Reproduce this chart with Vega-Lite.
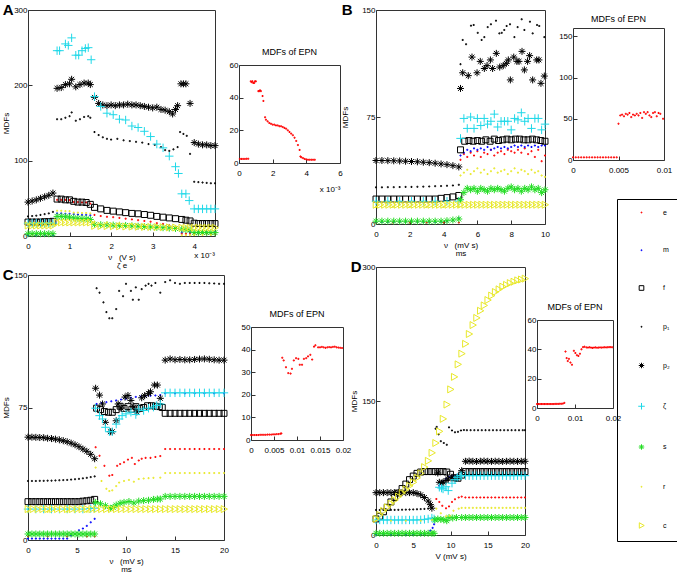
{
"$schema":"https://vega.github.io/schema/vega-lite/v6.json",
"padding":{"left":2,"top":2,"right":0,"bottom":0},
"datasets":{
"A":[
{"s":"e","x":0,"y":2},{"s":"e","x":0.1,"y":2},{"s":"e","x":0.2,"y":2},{"s":"e","x":0.3,"y":2},{"s":"e","x":0.4,"y":2},{"s":"e","x":0.5,"y":2},{"s":"e","x":0.6,"y":2},
{"s":"e","x":0.7,"y":48},{"s":"e","x":0.8,"y":48},{"s":"e","x":0.9,"y":48},{"s":"e","x":1,"y":47.5},{"s":"e","x":1.1,"y":45},{"s":"e","x":1.2,"y":45},{"s":"e","x":1.3,"y":44.5},{"s":"e","x":1.4,"y":44.5},{"s":"e","x":1.5,"y":43},
{"s":"e","x":1.6,"y":28},{"s":"e","x":1.75,"y":26.5},{"s":"e","x":1.9,"y":25.5},{"s":"e","x":2.05,"y":25},{"s":"e","x":2.2,"y":24},{"s":"e","x":2.35,"y":23},{"s":"e","x":2.5,"y":22},{"s":"e","x":2.65,"y":21},{"s":"e","x":2.8,"y":20},{"s":"e","x":2.95,"y":19},{"s":"e","x":3.1,"y":17},{"s":"e","x":3.25,"y":16},{"s":"e","x":3.4,"y":14},{"s":"e","x":3.55,"y":12},
{"s":"e","x":3.7,"y":3},{"s":"e","x":3.8,"y":3},{"s":"e","x":3.9,"y":3},{"s":"e","x":4,"y":3},{"s":"e","x":4.1,"y":3},{"s":"e","x":4.2,"y":3},{"s":"e","x":4.3,"y":3},{"s":"e","x":4.4,"y":3},{"s":"e","x":4.5,"y":3},
{"s":"m","x":0,"y":1},{"s":"m","x":0.2,"y":1},{"s":"m","x":0.4,"y":1},{"s":"m","x":0.6,"y":1},
{"s":"m","x":0.7,"y":30},{"s":"m","x":0.8,"y":30},{"s":"m","x":0.9,"y":29.5},{"s":"m","x":1,"y":29.5},{"s":"m","x":1.1,"y":29},{"s":"m","x":1.2,"y":28.5},{"s":"m","x":1.3,"y":28},{"s":"m","x":1.4,"y":28},{"s":"m","x":1.5,"y":27.5},
{"s":"m","x":1.6,"y":16},{"s":"m","x":1.9,"y":15.5},{"s":"m","x":2.2,"y":15},{"s":"m","x":2.5,"y":14.5},{"s":"m","x":2.8,"y":14},{"s":"m","x":3.1,"y":13},{"s":"m","x":3.4,"y":12},
{"s":"m","x":3.7,"y":5},{"s":"m","x":3.9,"y":5},{"s":"m","x":4.1,"y":5},{"s":"m","x":4.3,"y":5},{"s":"m","x":4.5,"y":5},
{"s":"f","x":0,"y":18.5},{"s":"f","x":0.1,"y":18.5},{"s":"f","x":0.2,"y":18.5},{"s":"f","x":0.3,"y":18.5},{"s":"f","x":0.4,"y":19},{"s":"f","x":0.5,"y":19},{"s":"f","x":0.6,"y":19.5},
{"s":"f","x":0.7,"y":49},{"s":"f","x":0.8,"y":49},{"s":"f","x":0.9,"y":48},{"s":"f","x":1,"y":48},{"s":"f","x":1.1,"y":46},{"s":"f","x":1.2,"y":45},{"s":"f","x":1.3,"y":45},{"s":"f","x":1.4,"y":44.5},{"s":"f","x":1.5,"y":42},
{"s":"f","x":1.6,"y":38},{"s":"f","x":1.75,"y":36},{"s":"f","x":1.9,"y":34},{"s":"f","x":2.05,"y":33},{"s":"f","x":2.2,"y":32},{"s":"f","x":2.35,"y":31},{"s":"f","x":2.5,"y":30},{"s":"f","x":2.65,"y":29.5},{"s":"f","x":2.8,"y":28.5},{"s":"f","x":2.95,"y":27.5},{"s":"f","x":3.1,"y":26},{"s":"f","x":3.25,"y":25},{"s":"f","x":3.4,"y":24},{"s":"f","x":3.55,"y":23},
{"s":"f","x":3.7,"y":22},{"s":"f","x":3.8,"y":21},{"s":"f","x":3.9,"y":20},{"s":"f","x":4,"y":17},{"s":"f","x":4.1,"y":16.5},{"s":"f","x":4.2,"y":16.5},{"s":"f","x":4.3,"y":16.5},{"s":"f","x":4.4,"y":16.5},{"s":"f","x":4.5,"y":16.5},
{"s":"p₁","x":0,"y":26},{"s":"p₁","x":0.1,"y":26.5},{"s":"p₁","x":0.2,"y":27},{"s":"p₁","x":0.3,"y":28},{"s":"p₁","x":0.4,"y":29},{"s":"p₁","x":0.5,"y":30},{"s":"p₁","x":0.6,"y":32},
{"s":"p₁","x":0.7,"y":155},{"s":"p₁","x":0.8,"y":155},{"s":"p₁","x":0.9,"y":157},{"s":"p₁","x":1,"y":159},{"s":"p₁","x":1.05,"y":164},{"s":"p₁","x":1.15,"y":153},{"s":"p₁","x":1.25,"y":155},{"s":"p₁","x":1.35,"y":158},{"s":"p₁","x":1.45,"y":159},{"s":"p₁","x":1.5,"y":157},
{"s":"p₁","x":1.6,"y":138},{"s":"p₁","x":1.7,"y":134},{"s":"p₁","x":1.8,"y":131},{"s":"p₁","x":1.9,"y":129},{"s":"p₁","x":2,"y":128},{"s":"p₁","x":2.15,"y":129},{"s":"p₁","x":2.3,"y":127},{"s":"p₁","x":2.45,"y":126},{"s":"p₁","x":2.6,"y":125},{"s":"p₁","x":2.75,"y":124},{"s":"p₁","x":2.9,"y":122},{"s":"p₁","x":3.05,"y":121},{"s":"p₁","x":3.2,"y":118},{"s":"p₁","x":3.3,"y":114},{"s":"p₁","x":3.4,"y":113},{"s":"p₁","x":3.5,"y":115},{"s":"p₁","x":3.6,"y":118},
{"s":"p₁","x":3.66,"y":138},{"s":"p₁","x":3.74,"y":135.5},{"s":"p₁","x":3.82,"y":133},{"s":"p₁","x":3.9,"y":109},
{"s":"p₁","x":4,"y":72},{"s":"p₁","x":4.1,"y":71.5},{"s":"p₁","x":4.2,"y":71},{"s":"p₁","x":4.3,"y":70.5},{"s":"p₁","x":4.4,"y":70},{"s":"p₁","x":4.5,"y":70},
{"s":"p₂","x":0,"y":45},{"s":"p₂","x":0.1,"y":46.5},{"s":"p₂","x":0.2,"y":48},{"s":"p₂","x":0.3,"y":50},{"s":"p₂","x":0.4,"y":52},{"s":"p₂","x":0.5,"y":54},{"s":"p₂","x":0.6,"y":57},
{"s":"p₂","x":0.7,"y":196},{"s":"p₂","x":0.8,"y":197},{"s":"p₂","x":0.9,"y":201},{"s":"p₂","x":1,"y":202},{"s":"p₂","x":1.05,"y":208},{"s":"p₂","x":1.15,"y":198},{"s":"p₂","x":1.25,"y":201},{"s":"p₂","x":1.35,"y":203},{"s":"p₂","x":1.45,"y":203},{"s":"p₂","x":1.5,"y":201},
{"s":"p₂","x":1.6,"y":184},{"s":"p₂","x":1.7,"y":176},{"s":"p₂","x":1.8,"y":174},{"s":"p₂","x":1.9,"y":173},{"s":"p₂","x":2,"y":174},{"s":"p₂","x":2.1,"y":173},{"s":"p₂","x":2.2,"y":174},{"s":"p₂","x":2.3,"y":174},{"s":"p₂","x":2.4,"y":175},{"s":"p₂","x":2.5,"y":174},{"s":"p₂","x":2.6,"y":174},{"s":"p₂","x":2.7,"y":173},{"s":"p₂","x":2.8,"y":172},{"s":"p₂","x":2.9,"y":171},{"s":"p₂","x":3,"y":170},{"s":"p₂","x":3.1,"y":171},{"s":"p₂","x":3.2,"y":168},{"s":"p₂","x":3.3,"y":167},{"s":"p₂","x":3.4,"y":165},{"s":"p₂","x":3.48,"y":162},{"s":"p₂","x":3.55,"y":168},{"s":"p₂","x":3.6,"y":173},
{"s":"p₂","x":3.68,"y":202},{"s":"p₂","x":3.74,"y":202},{"s":"p₂","x":3.8,"y":202},{"s":"p₂","x":3.9,"y":176},
{"s":"p₂","x":4,"y":124},{"s":"p₂","x":4.1,"y":122},{"s":"p₂","x":4.2,"y":121},{"s":"p₂","x":4.3,"y":121},{"s":"p₂","x":4.4,"y":120},{"s":"p₂","x":4.5,"y":120},
{"s":"ζ","x":0,"y":17},{"s":"ζ","x":0.1,"y":17},{"s":"ζ","x":0.2,"y":17},{"s":"ζ","x":0.3,"y":17},{"s":"ζ","x":0.4,"y":17},{"s":"ζ","x":0.5,"y":17},{"s":"ζ","x":0.6,"y":17},
{"s":"ζ","x":0.7,"y":246},{"s":"ζ","x":0.76,"y":246},{"s":"ζ","x":0.9,"y":255},{"s":"ζ","x":0.97,"y":253},{"s":"ζ","x":1.05,"y":263},{"s":"ζ","x":1.15,"y":240},{"s":"ζ","x":1.22,"y":240},{"s":"ζ","x":1.3,"y":246},{"s":"ζ","x":1.38,"y":249},{"s":"ζ","x":1.45,"y":250},{"s":"ζ","x":1.52,"y":234},
{"s":"ζ","x":1.6,"y":185},{"s":"ζ","x":1.75,"y":172},{"s":"ζ","x":1.9,"y":163},{"s":"ζ","x":2.05,"y":161},{"s":"ζ","x":2.2,"y":155},{"s":"ζ","x":2.35,"y":154},{"s":"ζ","x":2.5,"y":146},{"s":"ζ","x":2.65,"y":144},{"s":"ζ","x":2.8,"y":139},{"s":"ζ","x":2.95,"y":132},{"s":"ζ","x":3.1,"y":122},{"s":"ζ","x":3.25,"y":117},{"s":"ζ","x":3.4,"y":106},{"s":"ζ","x":3.55,"y":92},{"s":"ζ","x":3.62,"y":83},
{"s":"ζ","x":3.7,"y":56},{"s":"ζ","x":3.8,"y":56},{"s":"ζ","x":3.88,"y":47},
{"s":"ζ","x":4,"y":36},{"s":"ζ","x":4.1,"y":36},{"s":"ζ","x":4.2,"y":36},{"s":"ζ","x":4.3,"y":36},{"s":"ζ","x":4.4,"y":36},{"s":"ζ","x":4.5,"y":36},
{"s":"s","x":0,"y":3},{"s":"s","x":0.1,"y":3},{"s":"s","x":0.2,"y":3},{"s":"s","x":0.3,"y":3},{"s":"s","x":0.4,"y":3},{"s":"s","x":0.5,"y":3},{"s":"s","x":0.6,"y":3},
{"s":"s","x":0.7,"y":26},{"s":"s","x":0.8,"y":26},{"s":"s","x":0.9,"y":25.5},{"s":"s","x":1,"y":25},{"s":"s","x":1.1,"y":24},{"s":"s","x":1.2,"y":23.5},{"s":"s","x":1.3,"y":23},{"s":"s","x":1.4,"y":23},{"s":"s","x":1.5,"y":22},
{"s":"s","x":1.6,"y":15.5},{"s":"s","x":1.75,"y":15},{"s":"s","x":1.9,"y":14.8},{"s":"s","x":2.05,"y":14.5},{"s":"s","x":2.2,"y":14.2},{"s":"s","x":2.35,"y":14},{"s":"s","x":2.5,"y":13.5},{"s":"s","x":2.65,"y":13},{"s":"s","x":2.8,"y":12.5},{"s":"s","x":2.95,"y":12},{"s":"s","x":3.1,"y":11.5},{"s":"s","x":3.25,"y":11},{"s":"s","x":3.4,"y":10.5},{"s":"s","x":3.55,"y":10},
{"s":"s","x":3.7,"y":9},{"s":"s","x":3.8,"y":8.5},{"s":"s","x":3.9,"y":8},{"s":"s","x":4,"y":4.5},{"s":"s","x":4.1,"y":4.5},{"s":"s","x":4.2,"y":4.5},{"s":"s","x":4.3,"y":4.5},{"s":"s","x":4.4,"y":4.5},{"s":"s","x":4.5,"y":4.5},
{"s":"r","x":0,"y":15},{"s":"r","x":0.2,"y":15},{"s":"r","x":0.4,"y":15},{"s":"r","x":0.6,"y":15},
{"s":"r","x":0.7,"y":33.5},{"s":"r","x":0.8,"y":33.5},{"s":"r","x":0.9,"y":33},{"s":"r","x":1,"y":33},{"s":"r","x":1.1,"y":31},{"s":"r","x":1.2,"y":31},{"s":"r","x":1.3,"y":30.5},{"s":"r","x":1.4,"y":30.5},{"s":"r","x":1.5,"y":30},
{"s":"r","x":1.6,"y":19},{"s":"r","x":1.9,"y":18},{"s":"r","x":2.2,"y":17},{"s":"r","x":2.5,"y":16},{"s":"r","x":2.8,"y":15},{"s":"r","x":3.1,"y":14},{"s":"r","x":3.4,"y":13},{"s":"r","x":3.55,"y":12.5},
{"s":"r","x":3.7,"y":1},{"s":"r","x":3.8,"y":1},{"s":"r","x":3.9,"y":1},{"s":"r","x":4,"y":1.5},{"s":"r","x":4.2,"y":1.5},{"s":"r","x":4.4,"y":1.5},
{"s":"c","x":0,"y":14},{"s":"c","x":0.1,"y":14},{"s":"c","x":0.2,"y":14},{"s":"c","x":0.3,"y":14},{"s":"c","x":0.4,"y":14},{"s":"c","x":0.5,"y":14},{"s":"c","x":0.6,"y":14},
{"s":"c","x":0.7,"y":18},{"s":"c","x":0.8,"y":18},{"s":"c","x":0.9,"y":18},{"s":"c","x":1,"y":18},{"s":"c","x":1.1,"y":18},{"s":"c","x":1.2,"y":18},{"s":"c","x":1.3,"y":18},{"s":"c","x":1.4,"y":18},{"s":"c","x":1.5,"y":18},
{"s":"c","x":1.6,"y":13.5},{"s":"c","x":1.75,"y":13.3},{"s":"c","x":1.9,"y":13.2},{"s":"c","x":2.05,"y":13},{"s":"c","x":2.2,"y":12.8},{"s":"c","x":2.35,"y":12.6},{"s":"c","x":2.5,"y":12.5},{"s":"c","x":2.65,"y":12.3},{"s":"c","x":2.8,"y":12.1},{"s":"c","x":2.95,"y":12},{"s":"c","x":3.1,"y":11.8},{"s":"c","x":3.25,"y":11.6},{"s":"c","x":3.4,"y":11.4},{"s":"c","x":3.55,"y":11.2},
{"s":"c","x":3.7,"y":11},{"s":"c","x":3.8,"y":11},{"s":"c","x":3.9,"y":11},{"s":"c","x":4,"y":11},{"s":"c","x":4.1,"y":11},{"s":"c","x":4.2,"y":11},{"s":"c","x":4.3,"y":11},{"s":"c","x":4.4,"y":11},{"s":"c","x":4.5,"y":11}
],
"Ai":[
{"s":"e","x":0.05,"y":2.5},{"s":"e","x":0.15,"y":2.5},{"s":"e","x":0.25,"y":2.5},{"s":"e","x":0.35,"y":2.5},{"s":"e","x":0.45,"y":2.6},{"s":"e","x":0.55,"y":2.6},
{"s":"e","x":0.7,"y":50},{"s":"e","x":0.75,"y":49.5},{"s":"e","x":0.8,"y":50},{"s":"e","x":0.85,"y":49},{"s":"e","x":0.9,"y":49},{"s":"e","x":0.95,"y":50},{"s":"e","x":1,"y":50},
{"s":"e","x":1.15,"y":44},{"s":"e","x":1.2,"y":44},{"s":"e","x":1.25,"y":44.5},{"s":"e","x":1.3,"y":44},{"s":"e","x":1.4,"y":41},{"s":"e","x":1.45,"y":38},
{"s":"e","x":1.55,"y":28},{"s":"e","x":1.6,"y":26.5},{"s":"e","x":1.7,"y":25.5},{"s":"e","x":1.8,"y":24.5},{"s":"e","x":1.9,"y":24},{"s":"e","x":2,"y":23.5},{"s":"e","x":2.1,"y":23.5},{"s":"e","x":2.2,"y":23},{"s":"e","x":2.3,"y":23},{"s":"e","x":2.4,"y":22.5},{"s":"e","x":2.5,"y":22.5},{"s":"e","x":2.6,"y":22},{"s":"e","x":2.7,"y":21.5},{"s":"e","x":2.8,"y":21},{"s":"e","x":2.9,"y":20},{"s":"e","x":3,"y":19},{"s":"e","x":3.1,"y":18},{"s":"e","x":3.2,"y":17},{"s":"e","x":3.3,"y":15.5},{"s":"e","x":3.4,"y":13.5},{"s":"e","x":3.5,"y":11},{"s":"e","x":3.6,"y":8},{"s":"e","x":3.65,"y":4},{"s":"e","x":3.7,"y":3.5},{"s":"e","x":3.8,"y":3},{"s":"e","x":3.9,"y":2.5},{"s":"e","x":4,"y":2.2},{"s":"e","x":4.1,"y":2},{"s":"e","x":4.2,"y":2},{"s":"e","x":4.3,"y":2},{"s":"e","x":4.4,"y":2},{"s":"e","x":4.5,"y":2}
],
"B":[
{"s":"e","x":0,"y":1},{"s":"e","x":1,"y":1},{"s":"e","x":2,"y":1},{"s":"e","x":3,"y":1},{"s":"e","x":4,"y":1},{"s":"e","x":4.9,"y":1},
{"s":"e","x":5,"y":45},{"s":"e","x":5.2,"y":49},{"s":"e","x":5.4,"y":47},{"s":"e","x":5.6,"y":50},{"s":"e","x":5.8,"y":48},{"s":"e","x":6,"y":51},{"s":"e","x":6.2,"y":47},{"s":"e","x":6.4,"y":50},{"s":"e","x":6.6,"y":49},{"s":"e","x":6.8,"y":52},{"s":"e","x":7,"y":48},{"s":"e","x":7.2,"y":50},{"s":"e","x":7.4,"y":51},{"s":"e","x":7.6,"y":49},{"s":"e","x":7.8,"y":52},{"s":"e","x":8,"y":51},{"s":"e","x":8.2,"y":50},{"s":"e","x":8.4,"y":52},{"s":"e","x":8.6,"y":50},{"s":"e","x":8.8,"y":53},{"s":"e","x":9,"y":49},{"s":"e","x":9.2,"y":51},{"s":"e","x":9.4,"y":47},{"s":"e","x":9.6,"y":52},{"s":"e","x":9.8,"y":44},{"s":"e","x":10,"y":48},
{"s":"m","x":0,"y":1.5},{"s":"m","x":0.35,"y":1.5},{"s":"m","x":0.7,"y":1.5},{"s":"m","x":1.05,"y":1.5},{"s":"m","x":1.4,"y":1.5},{"s":"m","x":1.75,"y":1.5},{"s":"m","x":2.1,"y":1.5},{"s":"m","x":2.45,"y":1.5},{"s":"m","x":2.8,"y":1.5},{"s":"m","x":3.15,"y":1.5},{"s":"m","x":3.5,"y":1.5},{"s":"m","x":3.85,"y":1.6},{"s":"m","x":4.2,"y":1.8},{"s":"m","x":4.55,"y":2.5},{"s":"m","x":4.9,"y":4},
{"s":"m","x":5,"y":48},{"s":"m","x":5.2,"y":50},{"s":"m","x":5.4,"y":52},{"s":"m","x":5.6,"y":51},{"s":"m","x":5.8,"y":53},{"s":"m","x":6,"y":52},{"s":"m","x":6.2,"y":53},{"s":"m","x":6.4,"y":52},{"s":"m","x":6.6,"y":54},{"s":"m","x":6.8,"y":52},{"s":"m","x":7,"y":53},{"s":"m","x":7.2,"y":54},{"s":"m","x":7.4,"y":53},{"s":"m","x":7.6,"y":54},{"s":"m","x":7.8,"y":53},{"s":"m","x":8,"y":54},{"s":"m","x":8.2,"y":55},{"s":"m","x":8.4,"y":54},{"s":"m","x":8.6,"y":55},{"s":"m","x":8.8,"y":54},{"s":"m","x":9,"y":55},{"s":"m","x":9.2,"y":54},{"s":"m","x":9.4,"y":55},{"s":"m","x":9.6,"y":54},{"s":"m","x":9.8,"y":55},{"s":"m","x":10,"y":55},
{"s":"f","x":0,"y":17.5},{"s":"f","x":0.35,"y":17.5},{"s":"f","x":0.7,"y":17.5},{"s":"f","x":1.05,"y":17.5},{"s":"f","x":1.4,"y":17.5},{"s":"f","x":1.75,"y":17.5},{"s":"f","x":2.1,"y":17.5},{"s":"f","x":2.45,"y":17.5},{"s":"f","x":2.8,"y":17.5},{"s":"f","x":3.15,"y":17.5},{"s":"f","x":3.5,"y":17.5},{"s":"f","x":3.85,"y":18},{"s":"f","x":4.2,"y":18.5},{"s":"f","x":4.55,"y":19},{"s":"f","x":4.9,"y":20},
{"s":"f","x":5,"y":52},{"s":"f","x":5.25,"y":58},{"s":"f","x":5.5,"y":58.5},{"s":"f","x":5.75,"y":58},{"s":"f","x":6,"y":58.5},{"s":"f","x":6.25,"y":58},{"s":"f","x":6.5,"y":59},{"s":"f","x":6.75,"y":58},{"s":"f","x":7,"y":59.5},{"s":"f","x":7.25,"y":58.5},{"s":"f","x":7.5,"y":59},{"s":"f","x":7.75,"y":59.5},{"s":"f","x":8,"y":59},{"s":"f","x":8.25,"y":59.5},{"s":"f","x":8.5,"y":59.5},{"s":"f","x":8.75,"y":59},{"s":"f","x":9,"y":59},{"s":"f","x":9.25,"y":59.5},{"s":"f","x":9.5,"y":59},{"s":"f","x":9.75,"y":58.5},{"s":"f","x":10,"y":58},
{"s":"p₁","x":0,"y":25.7},{"s":"p₁","x":0.35,"y":25.7},{"s":"p₁","x":0.7,"y":25.8},{"s":"p₁","x":1.05,"y":25.8},{"s":"p₁","x":1.4,"y":25.9},{"s":"p₁","x":1.75,"y":26},{"s":"p₁","x":2.1,"y":26},{"s":"p₁","x":2.45,"y":26.1},{"s":"p₁","x":2.8,"y":26.2},{"s":"p₁","x":3.15,"y":26.3},{"s":"p₁","x":3.5,"y":26.5},{"s":"p₁","x":3.85,"y":26.6},{"s":"p₁","x":4.2,"y":26.8},{"s":"p₁","x":4.55,"y":27},{"s":"p₁","x":4.9,"y":27.5},
{"s":"p₁","x":5,"y":112},{"s":"p₁","x":5.13,"y":129},{"s":"p₁","x":5.33,"y":126},{"s":"p₁","x":5.62,"y":139},{"s":"p₁","x":5.78,"y":139.5},{"s":"p₁","x":6.02,"y":134},{"s":"p₁","x":6.25,"y":129},{"s":"p₁","x":6.41,"y":131},{"s":"p₁","x":6.61,"y":138},{"s":"p₁","x":6.8,"y":140},{"s":"p₁","x":7.1,"y":142.5},{"s":"p₁","x":7.3,"y":133.6},{"s":"p₁","x":7.44,"y":134},{"s":"p₁","x":7.59,"y":136},{"s":"p₁","x":7.73,"y":138.8},{"s":"p₁","x":7.93,"y":140},{"s":"p₁","x":8.19,"y":131},{"s":"p₁","x":8.38,"y":138},{"s":"p₁","x":8.62,"y":143.5},{"s":"p₁","x":8.78,"y":136},{"s":"p₁","x":9.11,"y":141.8},{"s":"p₁","x":9.27,"y":133.6},{"s":"p₁","x":9.53,"y":139.5},{"s":"p₁","x":9.66,"y":138.8},{"s":"p₁","x":9.96,"y":131},
{"s":"p₂","x":0,"y":44.5},{"s":"p₂","x":0.35,"y":44.5},{"s":"p₂","x":0.7,"y":44.4},{"s":"p₂","x":1.05,"y":44.3},{"s":"p₂","x":1.4,"y":44.2},{"s":"p₂","x":1.75,"y":44},{"s":"p₂","x":2.1,"y":43.8},{"s":"p₂","x":2.45,"y":43.6},{"s":"p₂","x":2.8,"y":43.3},{"s":"p₂","x":3.15,"y":43},{"s":"p₂","x":3.5,"y":42.6},{"s":"p₂","x":3.85,"y":42.1},{"s":"p₂","x":4.2,"y":41.6},{"s":"p₂","x":4.55,"y":40.9},{"s":"p₂","x":4.9,"y":40},
{"s":"p₂","x":5,"y":95},{"s":"p₂","x":5.13,"y":106},{"s":"p₂","x":5.46,"y":104},{"s":"p₂","x":5.68,"y":117},{"s":"p₂","x":5.98,"y":106},{"s":"p₂","x":6.17,"y":114},{"s":"p₂","x":6.41,"y":109},{"s":"p₂","x":6.57,"y":111},{"s":"p₂","x":6.77,"y":115},{"s":"p₂","x":6.9,"y":109},{"s":"p₂","x":7.12,"y":119.6},{"s":"p₂","x":7.32,"y":110},{"s":"p₂","x":7.53,"y":111},{"s":"p₂","x":7.71,"y":112.6},{"s":"p₂","x":7.83,"y":115},{"s":"p₂","x":7.95,"y":101},{"s":"p₂","x":8.15,"y":117},{"s":"p₂","x":8.34,"y":114},{"s":"p₂","x":8.46,"y":114},{"s":"p₂","x":8.64,"y":121},{"s":"p₂","x":8.78,"y":108},{"s":"p₂","x":8.97,"y":114},{"s":"p₂","x":9.09,"y":118},{"s":"p₂","x":9.27,"y":101},{"s":"p₂","x":9.51,"y":115},{"s":"p₂","x":9.64,"y":115},{"s":"p₂","x":9.76,"y":98.6},{"s":"p₂","x":9.96,"y":103.7},
{"s":"ζ","x":0,"y":16},{"s":"ζ","x":0.7,"y":16},{"s":"ζ","x":1.4,"y":16},{"s":"ζ","x":2.1,"y":16},{"s":"ζ","x":2.8,"y":16},{"s":"ζ","x":3.5,"y":16},{"s":"ζ","x":4.2,"y":16},{"s":"ζ","x":4.9,"y":16},
{"s":"ζ","x":5,"y":60},{"s":"ζ","x":5.2,"y":74},{"s":"ζ","x":5.4,"y":67},{"s":"ζ","x":5.6,"y":75},{"s":"ζ","x":5.8,"y":67},{"s":"ζ","x":6,"y":74},{"s":"ζ","x":6.2,"y":69},{"s":"ζ","x":6.4,"y":74},{"s":"ζ","x":6.6,"y":70},{"s":"ζ","x":6.8,"y":72},{"s":"ζ","x":7,"y":77},{"s":"ζ","x":7.2,"y":68},{"s":"ζ","x":7.4,"y":72},{"s":"ζ","x":7.6,"y":72},{"s":"ζ","x":7.8,"y":72},{"s":"ζ","x":8,"y":66},{"s":"ζ","x":8.2,"y":74},{"s":"ζ","x":8.4,"y":73},{"s":"ζ","x":8.6,"y":78},{"s":"ζ","x":8.8,"y":72},{"s":"ζ","x":9,"y":74},{"s":"ζ","x":9.2,"y":67},{"s":"ζ","x":9.4,"y":74},{"s":"ζ","x":9.6,"y":74},{"s":"ζ","x":9.8,"y":66},{"s":"ζ","x":10,"y":70},
{"s":"s","x":0,"y":2},{"s":"s","x":0.35,"y":2},{"s":"s","x":0.7,"y":2},{"s":"s","x":1.05,"y":2},{"s":"s","x":1.4,"y":2},{"s":"s","x":1.75,"y":2},{"s":"s","x":2.1,"y":2},{"s":"s","x":2.45,"y":2},{"s":"s","x":2.8,"y":2},{"s":"s","x":3.15,"y":2},{"s":"s","x":3.5,"y":2},{"s":"s","x":3.85,"y":2},{"s":"s","x":4.2,"y":2.3},{"s":"s","x":4.55,"y":2.8},{"s":"s","x":4.9,"y":3.5},
{"s":"s","x":5,"y":17},{"s":"s","x":5.2,"y":22},{"s":"s","x":5.4,"y":25},{"s":"s","x":5.6,"y":24},{"s":"s","x":5.8,"y":25},{"s":"s","x":6,"y":23},{"s":"s","x":6.2,"y":25},{"s":"s","x":6.4,"y":24},{"s":"s","x":6.6,"y":23},{"s":"s","x":6.8,"y":25},{"s":"s","x":7,"y":24},{"s":"s","x":7.2,"y":25},{"s":"s","x":7.4,"y":24},{"s":"s","x":7.6,"y":23},{"s":"s","x":7.8,"y":25},{"s":"s","x":8,"y":26},{"s":"s","x":8.2,"y":24},{"s":"s","x":8.4,"y":25},{"s":"s","x":8.6,"y":23},{"s":"s","x":8.8,"y":25},{"s":"s","x":9,"y":24},{"s":"s","x":9.2,"y":26},{"s":"s","x":9.4,"y":24},{"s":"s","x":9.6,"y":25},{"s":"s","x":9.8,"y":22},{"s":"s","x":10,"y":24},
{"s":"r","x":0,"y":12},{"s":"r","x":1,"y":12},{"s":"r","x":2,"y":12},{"s":"r","x":3,"y":12},{"s":"r","x":4,"y":12},{"s":"r","x":4.9,"y":12},
{"s":"r","x":5,"y":34},{"s":"r","x":5.2,"y":36},{"s":"r","x":5.4,"y":38},{"s":"r","x":5.6,"y":35},{"s":"r","x":5.8,"y":37},{"s":"r","x":6,"y":39},{"s":"r","x":6.2,"y":36},{"s":"r","x":6.4,"y":38},{"s":"r","x":6.6,"y":35},{"s":"r","x":6.8,"y":37},{"s":"r","x":7,"y":39},{"s":"r","x":7.2,"y":36},{"s":"r","x":7.4,"y":37},{"s":"r","x":7.6,"y":38},{"s":"r","x":7.8,"y":35},{"s":"r","x":8,"y":37},{"s":"r","x":8.2,"y":39},{"s":"r","x":8.4,"y":36},{"s":"r","x":8.6,"y":38},{"s":"r","x":8.8,"y":37},{"s":"r","x":9,"y":35},{"s":"r","x":9.2,"y":38},{"s":"r","x":9.4,"y":36},{"s":"r","x":9.6,"y":37},{"s":"r","x":9.8,"y":34},{"s":"r","x":10,"y":33},
{"s":"c","x":0,"y":13.5},{"s":"c","x":0.25,"y":13.5},{"s":"c","x":0.5,"y":13.5},{"s":"c","x":0.75,"y":13.5},{"s":"c","x":1,"y":13.5},{"s":"c","x":1.25,"y":13.5},{"s":"c","x":1.5,"y":13.5},{"s":"c","x":1.75,"y":13.5},{"s":"c","x":2,"y":13.5},{"s":"c","x":2.25,"y":13.5},{"s":"c","x":2.5,"y":13.5},{"s":"c","x":2.75,"y":13.5},{"s":"c","x":3,"y":13.5},{"s":"c","x":3.25,"y":13.5},{"s":"c","x":3.5,"y":13.5},{"s":"c","x":3.75,"y":13.5},{"s":"c","x":4,"y":13.5},{"s":"c","x":4.25,"y":13.5},{"s":"c","x":4.5,"y":13.5},{"s":"c","x":4.75,"y":13.5},{"s":"c","x":5,"y":13.5},{"s":"c","x":5.25,"y":13.5},{"s":"c","x":5.5,"y":13.5},{"s":"c","x":5.75,"y":13.5},{"s":"c","x":6,"y":13.5},{"s":"c","x":6.25,"y":13.5},{"s":"c","x":6.5,"y":13.5},{"s":"c","x":6.75,"y":13.5},{"s":"c","x":7,"y":13.5},{"s":"c","x":7.25,"y":13.5},{"s":"c","x":7.5,"y":13.5},{"s":"c","x":7.75,"y":13.5},{"s":"c","x":8,"y":13.5},{"s":"c","x":8.25,"y":13.5},{"s":"c","x":8.5,"y":13.5},{"s":"c","x":8.75,"y":13.5},{"s":"c","x":9,"y":13.5},{"s":"c","x":9.25,"y":13.5},{"s":"c","x":9.5,"y":13.5},{"s":"c","x":9.75,"y":13.5},{"s":"c","x":10,"y":13.5}
],
"Bi":[
{"s":"e","x":0,"y":3.2},{"s":"e","x":0.0003,"y":3.2},{"s":"e","x":0.0006,"y":3.2},{"s":"e","x":0.0009,"y":3.2},{"s":"e","x":0.0012,"y":3.2},{"s":"e","x":0.0015,"y":3.2},{"s":"e","x":0.0018,"y":3.2},{"s":"e","x":0.0021,"y":3.2},{"s":"e","x":0.0024,"y":3.2},{"s":"e","x":0.0027,"y":3.2},{"s":"e","x":0.003,"y":3.2},{"s":"e","x":0.0033,"y":3.2},{"s":"e","x":0.0036,"y":3.2},{"s":"e","x":0.0039,"y":3.2},{"s":"e","x":0.0042,"y":3.2},{"s":"e","x":0.0045,"y":3.2},{"s":"e","x":0.0048,"y":3.2},
{"s":"e","x":0.005,"y":44},{"s":"e","x":0.0052,"y":54},{"s":"e","x":0.0054,"y":55},{"s":"e","x":0.0056,"y":53},{"s":"e","x":0.0058,"y":56},{"s":"e","x":0.006,"y":55},{"s":"e","x":0.0062,"y":57},{"s":"e","x":0.0064,"y":52},{"s":"e","x":0.0066,"y":55},{"s":"e","x":0.0068,"y":54},{"s":"e","x":0.007,"y":56},{"s":"e","x":0.0072,"y":54},{"s":"e","x":0.0074,"y":57},{"s":"e","x":0.0076,"y":51},{"s":"e","x":0.0078,"y":58},{"s":"e","x":0.008,"y":56},{"s":"e","x":0.0082,"y":58},{"s":"e","x":0.0084,"y":54},{"s":"e","x":0.0086,"y":52},{"s":"e","x":0.0088,"y":57},{"s":"e","x":0.009,"y":58},{"s":"e","x":0.0092,"y":53},{"s":"e","x":0.0094,"y":57},{"s":"e","x":0.0096,"y":56},{"s":"e","x":0.0099,"y":50}
],
"C":[
{"s":"e","x":0,"y":2},{"s":"e","x":2,"y":2},{"s":"e","x":4,"y":2},{"s":"e","x":6,"y":2},{"s":"e","x":6.8,"y":2},
{"s":"e","x":6.9,"y":52.5},{"s":"e","x":7.3,"y":47.7},{"s":"e","x":7.8,"y":42},{"s":"e","x":8.3,"y":36.4},{"s":"e","x":8.6,"y":36.8},{"s":"e","x":9.1,"y":42},{"s":"e","x":9.4,"y":43},{"s":"e","x":9.8,"y":44},{"s":"e","x":10.2,"y":45.5},{"s":"e","x":10.6,"y":46.5},{"s":"e","x":10.9,"y":43},{"s":"e","x":11.3,"y":45},{"s":"e","x":11.6,"y":46},{"s":"e","x":12,"y":46.5},{"s":"e","x":12.5,"y":46.5},{"s":"e","x":13,"y":47},{"s":"e","x":13.5,"y":47.5},
{"s":"e","x":14,"y":51.5},{"s":"e","x":14.5,"y":51.5},{"s":"e","x":15,"y":51.5},{"s":"e","x":15.5,"y":51.5},{"s":"e","x":16,"y":51.5},{"s":"e","x":16.5,"y":51.5},{"s":"e","x":17,"y":51.5},{"s":"e","x":17.5,"y":51.5},{"s":"e","x":18,"y":51.5},{"s":"e","x":18.5,"y":51.5},{"s":"e","x":19,"y":51.5},{"s":"e","x":19.5,"y":51.5},{"s":"e","x":20,"y":51.5},
{"s":"m","x":0,"y":0.8},{"s":"m","x":0.4,"y":0.8},{"s":"m","x":0.8,"y":0.8},{"s":"m","x":1.2,"y":0.8},{"s":"m","x":1.6,"y":0.8},{"s":"m","x":2,"y":0.8},{"s":"m","x":2.4,"y":0.8},{"s":"m","x":2.8,"y":0.8},{"s":"m","x":3.2,"y":0.8},{"s":"m","x":3.6,"y":0.8},{"s":"m","x":4,"y":0.8},{"s":"m","x":4.4,"y":2.5},{"s":"m","x":4.8,"y":3.5},{"s":"m","x":5.2,"y":5.5},{"s":"m","x":5.6,"y":6.5},{"s":"m","x":6,"y":8},{"s":"m","x":6.4,"y":10},{"s":"m","x":6.8,"y":12},
{"s":"m","x":7,"y":77},{"s":"m","x":7.5,"y":77.5},{"s":"m","x":8,"y":78},{"s":"m","x":8.5,"y":78.5},{"s":"m","x":9,"y":79},{"s":"m","x":9.5,"y":79.5},{"s":"m","x":10,"y":80},{"s":"m","x":10.5,"y":80.5},{"s":"m","x":11,"y":81},{"s":"m","x":11.5,"y":81.2},{"s":"m","x":12,"y":81.5},{"s":"m","x":12.5,"y":81.7},{"s":"m","x":13,"y":81.8},{"s":"m","x":13.5,"y":82},
{"s":"m","x":14,"y":83},{"s":"m","x":15,"y":83},{"s":"m","x":16,"y":83},{"s":"m","x":17,"y":83},{"s":"m","x":18,"y":83},{"s":"m","x":19,"y":83},{"s":"m","x":20,"y":83},
{"s":"f","x":0,"y":21.7},{"s":"f","x":0.4,"y":21.7},{"s":"f","x":0.8,"y":21.7},{"s":"f","x":1.2,"y":21.7},{"s":"f","x":1.6,"y":21.7},{"s":"f","x":2,"y":21.7},{"s":"f","x":2.4,"y":21.7},{"s":"f","x":2.8,"y":21.7},{"s":"f","x":3.2,"y":21.7},{"s":"f","x":3.6,"y":21.7},{"s":"f","x":4,"y":21.7},{"s":"f","x":4.4,"y":21.7},{"s":"f","x":4.8,"y":21.7},{"s":"f","x":5.2,"y":21.7},{"s":"f","x":5.6,"y":22},{"s":"f","x":6,"y":22.2},{"s":"f","x":6.4,"y":22.5},{"s":"f","x":6.8,"y":23},
{"s":"f","x":7,"y":74.6},{"s":"f","x":7.4,"y":73.8},{"s":"f","x":7.8,"y":72.7},{"s":"f","x":8.2,"y":72.3},{"s":"f","x":8.6,"y":72.3},{"s":"f","x":9,"y":73.8},{"s":"f","x":9.4,"y":75.7},{"s":"f","x":9.8,"y":74.5},{"s":"f","x":10.2,"y":75.5},{"s":"f","x":10.6,"y":74},{"s":"f","x":11,"y":75.5},{"s":"f","x":11.4,"y":74.5},{"s":"f","x":11.8,"y":75},{"s":"f","x":12.2,"y":76},{"s":"f","x":12.6,"y":76},{"s":"f","x":13,"y":75.7},{"s":"f","x":13.4,"y":75.5},{"s":"f","x":13.7,"y":75},
{"s":"f","x":14,"y":71.7},{"s":"f","x":14.5,"y":71.7},{"s":"f","x":15,"y":71.7},{"s":"f","x":15.5,"y":71.7},{"s":"f","x":16,"y":71.7},{"s":"f","x":16.5,"y":71.7},{"s":"f","x":17,"y":71.7},{"s":"f","x":17.5,"y":71.7},{"s":"f","x":18,"y":71.7},{"s":"f","x":18.5,"y":71.7},{"s":"f","x":19,"y":71.7},{"s":"f","x":19.5,"y":71.7},{"s":"f","x":20,"y":71.7},
{"s":"p₁","x":0,"y":33.4},{"s":"p₁","x":0.4,"y":33.4},{"s":"p₁","x":0.8,"y":33.4},{"s":"p₁","x":1.2,"y":33.5},{"s":"p₁","x":1.6,"y":33.5},{"s":"p₁","x":2,"y":33.6},{"s":"p₁","x":2.4,"y":33.6},{"s":"p₁","x":2.8,"y":33.7},{"s":"p₁","x":3.2,"y":33.8},{"s":"p₁","x":3.6,"y":33.9},{"s":"p₁","x":4,"y":34},{"s":"p₁","x":4.4,"y":34.2},{"s":"p₁","x":4.8,"y":34.4},{"s":"p₁","x":5.2,"y":34.6},{"s":"p₁","x":5.6,"y":34.9},{"s":"p₁","x":6,"y":35.2},{"s":"p₁","x":6.4,"y":35.6},{"s":"p₁","x":6.8,"y":36},
{"s":"p₁","x":7,"y":142.5},{"s":"p₁","x":7.3,"y":140},{"s":"p₁","x":7.7,"y":134.5},{"s":"p₁","x":8,"y":129},{"s":"p₁","x":8.3,"y":125.5},{"s":"p₁","x":8.6,"y":125.5},{"s":"p₁","x":9,"y":130.7},{"s":"p₁","x":9.3,"y":141},{"s":"p₁","x":9.7,"y":138},{"s":"p₁","x":10,"y":145},{"s":"p₁","x":10.5,"y":141},{"s":"p₁","x":10.7,"y":136},{"s":"p₁","x":11,"y":143},{"s":"p₁","x":11.3,"y":136},{"s":"p₁","x":11.6,"y":142},{"s":"p₁","x":12,"y":144},{"s":"p₁","x":12.3,"y":145},{"s":"p₁","x":12.6,"y":144},{"s":"p₁","x":13,"y":145.5},{"s":"p₁","x":13.5,"y":140},
{"s":"p₁","x":14,"y":146},{"s":"p₁","x":14.5,"y":147},{"s":"p₁","x":15,"y":145.5},{"s":"p₁","x":15.5,"y":145},{"s":"p₁","x":16,"y":145.5},{"s":"p₁","x":16.5,"y":145.5},{"s":"p₁","x":17,"y":145.5},{"s":"p₁","x":17.5,"y":145.5},{"s":"p₁","x":18,"y":145.5},{"s":"p₁","x":18.5,"y":145.3},{"s":"p₁","x":19,"y":145.2},{"s":"p₁","x":19.5,"y":145},{"s":"p₁","x":20,"y":145},
{"s":"p₂","x":0,"y":58.2},{"s":"p₂","x":0.4,"y":58.2},{"s":"p₂","x":0.8,"y":58.1},{"s":"p₂","x":1.2,"y":58},{"s":"p₂","x":1.6,"y":57.9},{"s":"p₂","x":2,"y":57.6},{"s":"p₂","x":2.4,"y":57.4},{"s":"p₂","x":2.8,"y":57.1},{"s":"p₂","x":3.2,"y":56.7},{"s":"p₂","x":3.6,"y":56.2},{"s":"p₂","x":4,"y":55.6},{"s":"p₂","x":4.4,"y":54.8},{"s":"p₂","x":4.8,"y":53.9},{"s":"p₂","x":5.2,"y":52.8},{"s":"p₂","x":5.6,"y":51.5},{"s":"p₂","x":6,"y":50.2},{"s":"p₂","x":6.4,"y":48.5},{"s":"p₂","x":6.8,"y":46},
{"s":"p₂","x":6.9,"y":85.9},{"s":"p₂","x":7.3,"y":82},{"s":"p₂","x":7.6,"y":77},{"s":"p₂","x":7.9,"y":66.6},{"s":"p₂","x":8.4,"y":61.3},{"s":"p₂","x":8.6,"y":61.3},{"s":"p₂","x":9,"y":67.5},{"s":"p₂","x":9.2,"y":77},{"s":"p₂","x":9.5,"y":74.7},{"s":"p₂","x":9.9,"y":80.9},{"s":"p₂","x":10.2,"y":81.8},{"s":"p₂","x":10.5,"y":79},{"s":"p₂","x":10.8,"y":75.3},{"s":"p₂","x":11.1,"y":72.5},{"s":"p₂","x":11.6,"y":80.5},{"s":"p₂","x":11.9,"y":81.7},{"s":"p₂","x":12.3,"y":83},{"s":"p₂","x":12.5,"y":83.9},{"s":"p₂","x":12.9,"y":87.7},{"s":"p₂","x":13.2,"y":87.7},{"s":"p₂","x":13.5,"y":80.2},
{"s":"p₂","x":14,"y":101.8},{"s":"p₂","x":14.5,"y":102.5},{"s":"p₂","x":15,"y":102},{"s":"p₂","x":15.5,"y":102.2},{"s":"p₂","x":16,"y":102},{"s":"p₂","x":16.5,"y":102},{"s":"p₂","x":17,"y":102.2},{"s":"p₂","x":17.5,"y":102.4},{"s":"p₂","x":18,"y":102.5},{"s":"p₂","x":18.5,"y":102.3},{"s":"p₂","x":19,"y":102},{"s":"p₂","x":19.5,"y":101.8},{"s":"p₂","x":20,"y":101.8},
{"s":"ζ","x":0,"y":17.5},{"s":"ζ","x":0.8,"y":17.5},{"s":"ζ","x":1.6,"y":17.5},{"s":"ζ","x":2.4,"y":17.5},{"s":"ζ","x":3.2,"y":17.5},{"s":"ζ","x":4,"y":17.5},{"s":"ζ","x":4.8,"y":17.5},{"s":"ζ","x":5.6,"y":17.5},{"s":"ζ","x":6.4,"y":17.8},{"s":"ζ","x":6.8,"y":18},
{"s":"ζ","x":6.9,"y":74.6},{"s":"ζ","x":7.3,"y":70.4},{"s":"ζ","x":7.6,"y":68.5},{"s":"ζ","x":7.9,"y":63.8},{"s":"ζ","x":8.3,"y":61.3},{"s":"ζ","x":8.6,"y":61.3},{"s":"ζ","x":9,"y":65.6},{"s":"ζ","x":9.3,"y":68.5},{"s":"ζ","x":9.6,"y":70.4},{"s":"ζ","x":10,"y":71.4},{"s":"ζ","x":10.5,"y":72.3},{"s":"ζ","x":11,"y":71},{"s":"ζ","x":11.3,"y":74.2},{"s":"ζ","x":11.8,"y":73.3},{"s":"ζ","x":12.3,"y":74.6},{"s":"ζ","x":12.8,"y":75.2},{"s":"ζ","x":13.1,"y":76.1},{"s":"ζ","x":13.5,"y":77},
{"s":"ζ","x":14,"y":83.3},{"s":"ζ","x":14.5,"y":83.3},{"s":"ζ","x":15,"y":83.3},{"s":"ζ","x":15.5,"y":83.3},{"s":"ζ","x":16,"y":83.3},{"s":"ζ","x":16.5,"y":83.3},{"s":"ζ","x":17,"y":83.3},{"s":"ζ","x":17.5,"y":83.3},{"s":"ζ","x":18,"y":83.3},{"s":"ζ","x":18.5,"y":83.3},{"s":"ζ","x":19,"y":83.3},{"s":"ζ","x":19.5,"y":83.3},{"s":"ζ","x":20,"y":83.3},
{"s":"s","x":0,"y":3.4},{"s":"s","x":0.4,"y":3.4},{"s":"s","x":0.8,"y":3.4},{"s":"s","x":1.2,"y":3.4},{"s":"s","x":1.6,"y":3.4},{"s":"s","x":2,"y":3.4},{"s":"s","x":2.4,"y":3.4},{"s":"s","x":2.8,"y":3.4},{"s":"s","x":3.2,"y":3.4},{"s":"s","x":3.6,"y":3.4},{"s":"s","x":4,"y":3.4},{"s":"s","x":4.4,"y":3.4},{"s":"s","x":4.8,"y":3.4},{"s":"s","x":5.2,"y":3.4},{"s":"s","x":5.6,"y":3.4},{"s":"s","x":6,"y":3.4},{"s":"s","x":6.4,"y":3.4},{"s":"s","x":6.8,"y":3.4},
{"s":"s","x":6.9,"y":21.3},{"s":"s","x":7.4,"y":20.5},{"s":"s","x":7.9,"y":19.4},{"s":"s","x":8.4,"y":17.9},{"s":"s","x":8.7,"y":18.5},{"s":"s","x":9,"y":19.8},{"s":"s","x":9.4,"y":20.8},{"s":"s","x":9.8,"y":21.3},{"s":"s","x":10.3,"y":21.8},{"s":"s","x":10.8,"y":21},{"s":"s","x":11.3,"y":22},{"s":"s","x":11.8,"y":22.3},{"s":"s","x":12.3,"y":22.5},{"s":"s","x":12.8,"y":23},{"s":"s","x":13.2,"y":23.2},{"s":"s","x":13.5,"y":23.2},
{"s":"s","x":14,"y":24.7},{"s":"s","x":14.5,"y":24.7},{"s":"s","x":15,"y":24.7},{"s":"s","x":15.5,"y":24.7},{"s":"s","x":16,"y":24.7},{"s":"s","x":16.5,"y":24.7},{"s":"s","x":17,"y":24.7},{"s":"s","x":17.5,"y":24.7},{"s":"s","x":18,"y":24.7},{"s":"s","x":18.5,"y":24.7},{"s":"s","x":19,"y":24.7},{"s":"s","x":19.5,"y":24.7},{"s":"s","x":20,"y":24.7},
{"s":"r","x":0,"y":16},{"s":"r","x":2,"y":16},{"s":"r","x":4,"y":16},{"s":"r","x":6,"y":16},
{"s":"r","x":6.9,"y":41},{"s":"r","x":7.5,"y":33.4},{"s":"r","x":8,"y":29},{"s":"r","x":8.3,"y":27.7},{"s":"r","x":8.6,"y":28.1},{"s":"r","x":9,"y":30.5},{"s":"r","x":9.3,"y":32.5},{"s":"r","x":9.8,"y":33.4},{"s":"r","x":10.3,"y":34},{"s":"r","x":10.8,"y":33},{"s":"r","x":11.3,"y":34.5},{"s":"r","x":11.8,"y":34.8},{"s":"r","x":12.3,"y":35},{"s":"r","x":12.8,"y":35.2},{"s":"r","x":13.5,"y":35.3},
{"s":"r","x":14,"y":37.9},{"s":"r","x":14.5,"y":37.9},{"s":"r","x":15,"y":37.9},{"s":"r","x":15.5,"y":37.9},{"s":"r","x":16,"y":37.9},{"s":"r","x":16.5,"y":37.9},{"s":"r","x":17,"y":37.9},{"s":"r","x":17.5,"y":37.9},{"s":"r","x":18,"y":37.9},{"s":"r","x":18.5,"y":37.9},{"s":"r","x":19,"y":37.9},{"s":"r","x":19.5,"y":37.9},{"s":"r","x":20,"y":37.9},
{"s":"c","x":0,"y":17.5},{"s":"c","x":0.5,"y":17.5},{"s":"c","x":1,"y":17.5},{"s":"c","x":1.5,"y":17.5},{"s":"c","x":2,"y":17.5},{"s":"c","x":2.5,"y":17.5},{"s":"c","x":3,"y":17.5},{"s":"c","x":3.5,"y":17.5},{"s":"c","x":4,"y":17.5},{"s":"c","x":4.5,"y":17.5},{"s":"c","x":5,"y":17.5},{"s":"c","x":5.5,"y":17.5},{"s":"c","x":6,"y":17.5},{"s":"c","x":6.5,"y":17.5},{"s":"c","x":7,"y":17.5},{"s":"c","x":7.5,"y":17.5},{"s":"c","x":8,"y":17.5},{"s":"c","x":8.5,"y":17.5},{"s":"c","x":9,"y":17.5},{"s":"c","x":9.5,"y":17.5},{"s":"c","x":10,"y":17.5},{"s":"c","x":10.5,"y":17.5},{"s":"c","x":11,"y":17.5},{"s":"c","x":11.5,"y":17.5},{"s":"c","x":12,"y":17.5},{"s":"c","x":12.5,"y":17.5},{"s":"c","x":13,"y":17.5},{"s":"c","x":13.5,"y":17.5},{"s":"c","x":14,"y":17.5},{"s":"c","x":14.5,"y":17.5},{"s":"c","x":15,"y":17.5},{"s":"c","x":15.5,"y":17.5},{"s":"c","x":16,"y":17.5},{"s":"c","x":16.5,"y":17.5},{"s":"c","x":17,"y":17.5},{"s":"c","x":17.5,"y":17.5},{"s":"c","x":18,"y":17.5},{"s":"c","x":18.5,"y":17.5},{"s":"c","x":19,"y":17.5},{"s":"c","x":19.5,"y":17.5},{"s":"c","x":20,"y":17.5}
],
"Ci":[
{"s":"e","x":0,"y":2.2},{"s":"e","x":0.0004,"y":2.2},{"s":"e","x":0.0008,"y":2.2},{"s":"e","x":0.0012,"y":2.2},{"s":"e","x":0.0016,"y":2.2},{"s":"e","x":0.002,"y":2.3},{"s":"e","x":0.0024,"y":2.3},{"s":"e","x":0.0028,"y":2.3},{"s":"e","x":0.0032,"y":2.3},{"s":"e","x":0.0036,"y":2.4},{"s":"e","x":0.004,"y":2.4},{"s":"e","x":0.0044,"y":2.4},{"s":"e","x":0.0048,"y":2.5},{"s":"e","x":0.0052,"y":2.5},{"s":"e","x":0.0056,"y":2.6},{"s":"e","x":0.006,"y":2.6},{"s":"e","x":0.0064,"y":2.8},{"s":"e","x":0.0066,"y":2.9},
{"s":"e","x":0.0068,"y":36.4},{"s":"e","x":0.0071,"y":35.2},{"s":"e","x":0.0076,"y":32.2},{"s":"e","x":0.0081,"y":29.6},{"s":"e","x":0.0086,"y":29.4},{"s":"e","x":0.0089,"y":31.5},{"s":"e","x":0.0093,"y":35.2},{"s":"e","x":0.0098,"y":36.2},{"s":"e","x":0.0103,"y":35.9},{"s":"e","x":0.0106,"y":33.3},{"s":"e","x":0.0111,"y":33.3},{"s":"e","x":0.0115,"y":35.9},{"s":"e","x":0.012,"y":36.2},{"s":"e","x":0.0124,"y":37},{"s":"e","x":0.0129,"y":37.7},{"s":"e","x":0.0133,"y":35.6},{"s":"e","x":0.0137,"y":41.3},{"s":"e","x":0.014,"y":41.9},{"s":"e","x":0.0146,"y":41},
{"s":"e","x":0.015,"y":41},{"s":"e","x":0.0154,"y":41.2},{"s":"e","x":0.0158,"y":41},{"s":"e","x":0.0162,"y":40.8},{"s":"e","x":0.0166,"y":41},{"s":"e","x":0.017,"y":41.1},{"s":"e","x":0.0174,"y":41},{"s":"e","x":0.0178,"y":41.2},{"s":"e","x":0.0182,"y":41.3},{"s":"e","x":0.0186,"y":41},{"s":"e","x":0.019,"y":40.9},{"s":"e","x":0.0194,"y":40.8},{"s":"e","x":0.0198,"y":40.7}
],
"D":[
{"s":"e","x":0,"y":1.5},{"s":"e","x":2,"y":1.5},{"s":"e","x":4,"y":1.5},{"s":"e","x":6,"y":1.5},{"s":"e","x":7.5,"y":1.5},
{"s":"e","x":8.1,"y":40.3},{"s":"e","x":8.5,"y":37},{"s":"e","x":8.9,"y":32.7},{"s":"e","x":9.4,"y":29.9},{"s":"e","x":9.8,"y":32},{"s":"e","x":10.2,"y":37},{"s":"e","x":10.6,"y":40},{"s":"e","x":11.1,"y":42},{"s":"e","x":11.5,"y":43},
{"s":"e","x":12,"y":42},{"s":"e","x":12.5,"y":42},{"s":"e","x":13,"y":42},{"s":"e","x":13.5,"y":42},{"s":"e","x":14,"y":42},{"s":"e","x":14.5,"y":42},{"s":"e","x":15,"y":42},{"s":"e","x":15.5,"y":42},{"s":"e","x":16,"y":42},{"s":"e","x":16.5,"y":42},{"s":"e","x":17,"y":42},{"s":"e","x":17.5,"y":42},{"s":"e","x":18,"y":42},{"s":"e","x":18.5,"y":42},{"s":"e","x":19,"y":42},{"s":"e","x":19.5,"y":42},{"s":"e","x":20,"y":42},
{"s":"m","x":0,"y":0.5},{"s":"m","x":1,"y":0.5},{"s":"m","x":2,"y":0.5},{"s":"m","x":3,"y":0.5},{"s":"m","x":4,"y":0.5},{"s":"m","x":5,"y":0.5},{"s":"m","x":6,"y":0.5},{"s":"m","x":6.5,"y":0.8},{"s":"m","x":7,"y":2},{"s":"m","x":7.3,"y":5},{"s":"m","x":7.6,"y":8},{"s":"m","x":7.8,"y":12},
{"s":"m","x":8.5,"y":55},{"s":"m","x":9,"y":60},{"s":"m","x":9.4,"y":63},{"s":"m","x":9.8,"y":65},{"s":"m","x":10.2,"y":66},{"s":"m","x":10.6,"y":66.5},{"s":"m","x":11,"y":67},
{"s":"m","x":12,"y":67.5},{"s":"m","x":13,"y":67.5},{"s":"m","x":14,"y":67.5},{"s":"m","x":15,"y":67.5},{"s":"m","x":16,"y":67.5},{"s":"m","x":17,"y":67.5},{"s":"m","x":18,"y":67.5},{"s":"m","x":19,"y":67.5},{"s":"m","x":20,"y":67.5},
{"s":"f","x":0,"y":18},{"s":"f","x":0.5,"y":21},{"s":"f","x":1,"y":26},{"s":"f","x":1.5,"y":31},{"s":"f","x":2,"y":37},{"s":"f","x":2.5,"y":42},{"s":"f","x":3,"y":47},{"s":"f","x":3.5,"y":52},{"s":"f","x":4,"y":57},{"s":"f","x":4.5,"y":62},{"s":"f","x":5,"y":66},{"s":"f","x":5.5,"y":69},{"s":"f","x":6,"y":70.5},{"s":"f","x":6.5,"y":71},{"s":"f","x":7,"y":71},{"s":"f","x":7.5,"y":71},{"s":"f","x":8,"y":71},{"s":"f","x":8.5,"y":71},{"s":"f","x":9,"y":71},{"s":"f","x":9.5,"y":70.5},{"s":"f","x":10,"y":68},{"s":"f","x":10.5,"y":64},{"s":"f","x":11,"y":63.5},{"s":"f","x":11.5,"y":67},{"s":"f","x":12,"y":71},{"s":"f","x":12.5,"y":71},{"s":"f","x":13,"y":71},{"s":"f","x":13.5,"y":71},{"s":"f","x":14,"y":71},{"s":"f","x":14.5,"y":71},{"s":"f","x":15,"y":71},{"s":"f","x":15.5,"y":71},{"s":"f","x":16,"y":71},{"s":"f","x":16.5,"y":71},{"s":"f","x":17,"y":71},{"s":"f","x":17.5,"y":71},{"s":"f","x":18,"y":71},{"s":"f","x":18.5,"y":71},{"s":"f","x":19,"y":71},{"s":"f","x":19.5,"y":71},{"s":"f","x":20,"y":71},
{"s":"p₁","x":0,"y":28},{"s":"p₁","x":0.5,"y":28},{"s":"p₁","x":1,"y":28},{"s":"p₁","x":1.5,"y":28},{"s":"p₁","x":2,"y":28.1},{"s":"p₁","x":2.5,"y":28.1},{"s":"p₁","x":3,"y":28.2},{"s":"p₁","x":3.5,"y":28.3},{"s":"p₁","x":4,"y":28.4},{"s":"p₁","x":4.5,"y":28.5},{"s":"p₁","x":5,"y":28.6},{"s":"p₁","x":5.5,"y":28.8},{"s":"p₁","x":6,"y":29},{"s":"p₁","x":6.5,"y":29.2},{"s":"p₁","x":7,"y":29.5},{"s":"p₁","x":7.5,"y":30.5},
{"s":"p₁","x":8,"y":119},{"s":"p₁","x":8.15,"y":121},{"s":"p₁","x":8.4,"y":112.7},{"s":"p₁","x":8.7,"y":105},{"s":"p₁","x":9.1,"y":103},{"s":"p₁","x":9.5,"y":101},{"s":"p₁","x":9.8,"y":120.5},{"s":"p₁","x":10.2,"y":117},{"s":"p₁","x":10.6,"y":115},{"s":"p₁","x":11,"y":115.5},{"s":"p₁","x":11.4,"y":117},{"s":"p₁","x":11.8,"y":117.5},
{"s":"p₁","x":12.2,"y":117.3},{"s":"p₁","x":12.7,"y":117.3},{"s":"p₁","x":13.2,"y":117.3},{"s":"p₁","x":13.7,"y":117.3},{"s":"p₁","x":14.2,"y":117.3},{"s":"p₁","x":14.7,"y":117.3},{"s":"p₁","x":15.2,"y":117.3},{"s":"p₁","x":15.7,"y":117.3},{"s":"p₁","x":16.2,"y":117.3},{"s":"p₁","x":16.7,"y":117.3},{"s":"p₁","x":17.2,"y":117.3},{"s":"p₁","x":17.7,"y":117.3},{"s":"p₁","x":18.2,"y":117.3},{"s":"p₁","x":18.7,"y":117.3},{"s":"p₁","x":19.2,"y":117.3},{"s":"p₁","x":19.7,"y":117.3},{"s":"p₁","x":20,"y":117.3},
{"s":"p₂","x":0,"y":47.4},{"s":"p₂","x":0.5,"y":47.4},{"s":"p₂","x":1,"y":47.4},{"s":"p₂","x":1.5,"y":47.4},{"s":"p₂","x":2,"y":47.4},{"s":"p₂","x":2.5,"y":47.4},{"s":"p₂","x":3,"y":47.4},{"s":"p₂","x":3.5,"y":47.4},{"s":"p₂","x":4,"y":47.4},{"s":"p₂","x":4.5,"y":47.4},{"s":"p₂","x":5,"y":47.4},{"s":"p₂","x":5.5,"y":46.5},{"s":"p₂","x":6,"y":45},{"s":"p₂","x":6.5,"y":42},{"s":"p₂","x":7,"y":38},{"s":"p₂","x":7.3,"y":34},{"s":"p₂","x":7.5,"y":30},
{"s":"p₂","x":8.3,"y":69.4},{"s":"p₂","x":8.5,"y":59},{"s":"p₂","x":8.8,"y":58},{"s":"p₂","x":9,"y":59},{"s":"p₂","x":9.4,"y":61},{"s":"p₂","x":9.7,"y":62.8},{"s":"p₂","x":10.2,"y":64.6},{"s":"p₂","x":10.6,"y":63.6},{"s":"p₂","x":11.1,"y":64.6},{"s":"p₂","x":11.5,"y":72},
{"s":"p₂","x":12,"y":82.5},{"s":"p₂","x":12.5,"y":82.8},{"s":"p₂","x":13,"y":82.5},{"s":"p₂","x":13.5,"y":82.3},{"s":"p₂","x":14,"y":82.6},{"s":"p₂","x":14.5,"y":82.8},{"s":"p₂","x":15,"y":82.5},{"s":"p₂","x":15.5,"y":82.4},{"s":"p₂","x":16,"y":82.6},{"s":"p₂","x":16.5,"y":82.5},{"s":"p₂","x":17,"y":82.3},{"s":"p₂","x":17.5,"y":82.5},{"s":"p₂","x":18,"y":82.6},{"s":"p₂","x":18.5,"y":82.5},{"s":"p₂","x":19,"y":82.4},{"s":"p₂","x":19.5,"y":82.5},{"s":"p₂","x":20,"y":82.5},
{"s":"ζ","x":0,"y":16.8},{"s":"ζ","x":0.5,"y":16.8},{"s":"ζ","x":1,"y":16.8},{"s":"ζ","x":1.5,"y":16.8},{"s":"ζ","x":2,"y":16.8},{"s":"ζ","x":2.5,"y":16.8},{"s":"ζ","x":3,"y":16.8},{"s":"ζ","x":3.5,"y":16.8},{"s":"ζ","x":4,"y":16.8},{"s":"ζ","x":4.5,"y":16.8},{"s":"ζ","x":5,"y":16.8},{"s":"ζ","x":5.5,"y":16.8},{"s":"ζ","x":6,"y":17},{"s":"ζ","x":6.5,"y":17.5},{"s":"ζ","x":7,"y":18},{"s":"ζ","x":7.5,"y":19},
{"s":"ζ","x":7.8,"y":18},{"s":"ζ","x":8.5,"y":53.4},{"s":"ζ","x":8.8,"y":52.5},{"s":"ζ","x":9,"y":51.5},{"s":"ζ","x":9.4,"y":54},{"s":"ζ","x":9.7,"y":49.7},{"s":"ζ","x":10.2,"y":58},{"s":"ζ","x":10.6,"y":62},{"s":"ζ","x":10.9,"y":64.6},{"s":"ζ","x":11.3,"y":66.4},
{"s":"ζ","x":11.5,"y":66.4},{"s":"ζ","x":12,"y":66.4},{"s":"ζ","x":12.5,"y":66.4},{"s":"ζ","x":13,"y":66.4},{"s":"ζ","x":13.5,"y":66.4},{"s":"ζ","x":14,"y":66.4},{"s":"ζ","x":14.5,"y":66.4},{"s":"ζ","x":15,"y":66.4},{"s":"ζ","x":15.5,"y":66.4},{"s":"ζ","x":16,"y":66.4},{"s":"ζ","x":16.5,"y":66.4},{"s":"ζ","x":17,"y":66.4},{"s":"ζ","x":17.5,"y":66.4},{"s":"ζ","x":18,"y":66.4},{"s":"ζ","x":18.5,"y":66.4},{"s":"ζ","x":19,"y":66.4},{"s":"ζ","x":19.5,"y":66.4},{"s":"ζ","x":20,"y":66.4},
{"s":"s","x":0,"y":1.9},{"s":"s","x":0.5,"y":1.9},{"s":"s","x":1,"y":1.9},{"s":"s","x":1.5,"y":1.9},{"s":"s","x":2,"y":1.9},{"s":"s","x":2.5,"y":1.9},{"s":"s","x":3,"y":1.9},{"s":"s","x":3.5,"y":1.9},{"s":"s","x":4,"y":1.9},{"s":"s","x":4.5,"y":1.9},{"s":"s","x":5,"y":1.9},{"s":"s","x":5.5,"y":1.9},{"s":"s","x":6,"y":1.9},{"s":"s","x":6.5,"y":1.9},{"s":"s","x":7,"y":1.9},{"s":"s","x":7.5,"y":1.9},{"s":"s","x":7.8,"y":1.9},
{"s":"s","x":7.9,"y":17},{"s":"s","x":8.3,"y":17.9},{"s":"s","x":8.7,"y":17.5},{"s":"s","x":9.1,"y":17},{"s":"s","x":9.5,"y":16},{"s":"s","x":9.8,"y":19.5},{"s":"s","x":10.3,"y":19},{"s":"s","x":10.8,"y":19.5},
{"s":"s","x":11.5,"y":19.6},{"s":"s","x":12,"y":19.6},{"s":"s","x":12.5,"y":19.6},{"s":"s","x":13,"y":19.6},{"s":"s","x":13.5,"y":19.6},{"s":"s","x":14,"y":19.6},{"s":"s","x":14.5,"y":19.6},{"s":"s","x":15,"y":19.6},{"s":"s","x":15.5,"y":19.6},{"s":"s","x":16,"y":19.6},{"s":"s","x":16.5,"y":19.6},{"s":"s","x":17,"y":19.6},{"s":"s","x":17.5,"y":19.6},{"s":"s","x":18,"y":19.6},{"s":"s","x":18.5,"y":19.6},{"s":"s","x":19,"y":19.6},{"s":"s","x":19.5,"y":19.6},{"s":"s","x":20,"y":19.6},
{"s":"r","x":0,"y":16},{"s":"r","x":2,"y":16},{"s":"r","x":4,"y":16},{"s":"r","x":6,"y":16},{"s":"r","x":7.5,"y":17},
{"s":"r","x":8.1,"y":29.5},{"s":"r","x":8.7,"y":24.3},{"s":"r","x":9.4,"y":20.9},{"s":"r","x":9.9,"y":21.6},{"s":"r","x":10.4,"y":27.2},{"s":"r","x":11.1,"y":29.5},
{"s":"r","x":11.5,"y":30.4},{"s":"r","x":12,"y":30.4},{"s":"r","x":12.5,"y":30.4},{"s":"r","x":13,"y":30.4},{"s":"r","x":13.5,"y":30.4},{"s":"r","x":14,"y":30.4},{"s":"r","x":14.5,"y":30.4},{"s":"r","x":15,"y":30.4},{"s":"r","x":15.5,"y":30.4},{"s":"r","x":16,"y":30.4},{"s":"r","x":16.5,"y":30.4},{"s":"r","x":17,"y":30.4},{"s":"r","x":17.5,"y":30.4},{"s":"r","x":18,"y":30.4},{"s":"r","x":18.5,"y":30.4},{"s":"r","x":19,"y":30.4},{"s":"r","x":19.5,"y":30.4},{"s":"r","x":20,"y":30.4},
{"s":"c","x":0,"y":18},{"s":"c","x":0.5,"y":22.5},{"s":"c","x":1,"y":27},{"s":"c","x":1.5,"y":31},{"s":"c","x":2,"y":35},{"s":"c","x":2.5,"y":39},{"s":"c","x":3,"y":43},{"s":"c","x":3.5,"y":47},{"s":"c","x":4,"y":51},{"s":"c","x":4.5,"y":55},{"s":"c","x":5,"y":59},{"s":"c","x":5.5,"y":64},{"s":"c","x":6,"y":69},{"s":"c","x":6.5,"y":76},{"s":"c","x":7,"y":83},{"s":"c","x":7.5,"y":92},{"s":"c","x":8,"y":103},{"s":"c","x":8.5,"y":116},{"s":"c","x":9,"y":130},{"s":"c","x":9.5,"y":146},{"s":"c","x":10,"y":163},{"s":"c","x":10.5,"y":177},{"s":"c","x":11,"y":191},{"s":"c","x":11.5,"y":203},{"s":"c","x":12,"y":214},{"s":"c","x":12.5,"y":225},{"s":"c","x":13,"y":235},{"s":"c","x":13.5,"y":243},{"s":"c","x":14,"y":251},{"s":"c","x":14.5,"y":257},{"s":"c","x":15,"y":263},{"s":"c","x":15.5,"y":268},{"s":"c","x":16,"y":272},{"s":"c","x":16.5,"y":275},{"s":"c","x":17,"y":278},{"s":"c","x":17.5,"y":280},{"s":"c","x":18,"y":282},{"s":"c","x":18.5,"y":283.5},{"s":"c","x":19,"y":285},{"s":"c","x":19.5,"y":286},{"s":"c","x":20,"y":287}
],
"Di":[
{"s":"e","x":0,"y":2.7},{"s":"e","x":0.0004,"y":2.7},{"s":"e","x":0.0008,"y":2.7},{"s":"e","x":0.0012,"y":2.7},{"s":"e","x":0.0016,"y":2.7},{"s":"e","x":0.002,"y":2.7},{"s":"e","x":0.0024,"y":2.7},{"s":"e","x":0.0028,"y":2.7},{"s":"e","x":0.0032,"y":2.7},{"s":"e","x":0.0036,"y":2.7},{"s":"e","x":0.004,"y":2.7},{"s":"e","x":0.0044,"y":2.7},{"s":"e","x":0.0048,"y":2.8},{"s":"e","x":0.0052,"y":2.8},{"s":"e","x":0.0056,"y":2.8},{"s":"e","x":0.006,"y":2.9},{"s":"e","x":0.0064,"y":2.9},{"s":"e","x":0.0068,"y":3},{"s":"e","x":0.0072,"y":3.5},
{"s":"e","x":0.0075,"y":38.5},{"s":"e","x":0.0078,"y":34},{"s":"e","x":0.0081,"y":32},{"s":"e","x":0.0084,"y":33.5},{"s":"e","x":0.0088,"y":31},{"s":"e","x":0.0092,"y":29.5},{"s":"e","x":0.0097,"y":39},{"s":"e","x":0.0101,"y":37.5},{"s":"e","x":0.0105,"y":36},{"s":"e","x":0.0109,"y":35.5},{"s":"e","x":0.0113,"y":37},{"s":"e","x":0.0117,"y":40},{"s":"e","x":0.0121,"y":41.5},{"s":"e","x":0.0125,"y":41.8},
{"s":"e","x":0.013,"y":41.3},{"s":"e","x":0.0134,"y":41.2},{"s":"e","x":0.0138,"y":41.4},{"s":"e","x":0.0142,"y":41.2},{"s":"e","x":0.0146,"y":41},{"s":"e","x":0.015,"y":41.2},{"s":"e","x":0.0154,"y":41.3},{"s":"e","x":0.0158,"y":41.1},{"s":"e","x":0.0162,"y":41.2},{"s":"e","x":0.0166,"y":41.3},{"s":"e","x":0.017,"y":41.2},{"s":"e","x":0.0174,"y":41.3},{"s":"e","x":0.0178,"y":41.4},{"s":"e","x":0.0182,"y":41.3},{"s":"e","x":0.0186,"y":41.4},{"s":"e","x":0.019,"y":41.5},{"s":"e","x":0.0194,"y":41.5},{"s":"e","x":0.0198,"y":41.4}
]
},
"spacing":-11,
"hconcat":[
{"spacing":-3,"align":"none","vconcat":[
 {"spacing":6,"hconcat":[
  {"width":187,"height":226,
   "title":{"text":"A","anchor":"start","frame":"bounds","fontSize":15,"fontWeight":"bold","offset":-12},
   "layer":[
    {"data":{"name":"A"},"mark":{"type":"point","filled":false,"size":49,"strokeWidth":1,"opacity":1},
     "encoding":{
      "x":{"field":"x","type":"quantitative","scale":{"domain":[0,4.5],"nice":false,"zero":false},"axis":{"values":[0,1,2,3,4],"title":["ν\u00a0\u00a0\u00a0(V s)","ζ e\u00a0\u00a0\u00a0"]}},
      "y":{"field":"y","type":"quantitative","scale":{"domain":[0,300],"nice":false},"axis":{"values":[0,50,100,150,200,250,300],"title":"MDFs"}},
      "color":{"field":"s","type":"nominal","scale":{"domain":["e","m","f","p₁","p₂","ζ","s","r","c"],"range":["#ff0000","#0000ff","#000000","#000000","#000000","#1ed8e8","#22dd22","#e8e82a","#e8e82a"]},"legend":{"title":null,"orient":"none","legendX":589,"legendY":189,"strokeColor":"#000","padding":10,"symbolOffset":11,"rowPadding":29.75,"labelFontSize":7,"labelOffset":18,"symbolSize":30,"symbolStrokeWidth":1}},
      "shape":{"field":"s","type":"nominal","scale":{"domain":["e","m","f","p₁","p₂","ζ","s","r","c"],"range":["M-0.15,-0.15L0.15,-0.15L0.15,0.15L-0.15,0.15Z","M-0.15,-0.15L0.15,-0.15L0.15,0.15L-0.15,0.15Z","M-0.85,-0.85L0.85,-0.85L0.85,0.85L-0.85,0.85Z","M-0.15,-0.15L0.15,-0.15L0.15,0.15L-0.15,0.15Z","M-1,0L1,0M0,-1L0,1M-0.7,-0.7L0.7,0.7M-0.7,0.7L0.7,-0.7","M-1.2,0L1.2,0M0,-1.2L0,1.2","M-1,0L1,0M0,-1L0,1M-0.7,-0.7L0.7,0.7M-0.7,0.7L0.7,-0.7","M-0.15,-0.15L0.15,-0.15L0.15,0.15L-0.15,0.15Z","M-0.8,-1L1,0L-0.8,1Z"]},"legend":{"title":null,"orient":"none","legendX":589,"legendY":189,"strokeColor":"#000","padding":10,"symbolOffset":11,"rowPadding":29.75,"labelFontSize":7,"labelOffset":18,"symbolSize":30,"symbolStrokeWidth":1}}
     }},
    {"data":{"values":[{"t":"x 10⁻³"}]},"mark":{"type":"text","align":"right","baseline":"top","dy":16,"fontSize":8,"font":"Liberation Sans"},
     "encoding":{"x":{"datum":4.5},"y":{"datum":0},"text":{"field":"t"}}}
   ]},
  {"spacing":0,"vconcat":[
   {"width":1,"height":37,"data":{"values":[]},"mark":"point","view":{"stroke":null}},
   {"width":101,"height":98,"title":{"text":"MDFs of EPN","offset":4},
    "data":{"name":"Ai"},"mark":{"type":"point","filled":false,"size":49,"strokeWidth":1,"opacity":1},
    "encoding":{
     "x":{"field":"x","type":"quantitative","scale":{"domain":[0,6],"nice":false,"zero":false},"axis":{"values":[0,2,4,6],"title":"x 10⁻³","titleAnchor":"end","titlePadding":8}},
     "y":{"field":"y","type":"quantitative","scale":{"domain":[0,60],"nice":false},"axis":{"values":[0,20,40,60],"title":null}},
     "color":{"field":"s","type":"nominal","scale":{"domain":["e","m","f","p₁","p₂","ζ","s","r","c"],"range":["#ff0000","#0000ff","#000000","#000000","#000000","#1ed8e8","#22dd22","#e8e82a","#e8e82a"]},"legend":{"title":null,"orient":"none","legendX":589,"legendY":189,"strokeColor":"#000","padding":10,"symbolOffset":11,"rowPadding":29.75,"labelFontSize":7,"labelOffset":18,"symbolSize":30,"symbolStrokeWidth":1}},
     "shape":{"field":"s","type":"nominal","scale":{"domain":["e","m","f","p₁","p₂","ζ","s","r","c"],"range":["M-0.15,-0.15L0.15,-0.15L0.15,0.15L-0.15,0.15Z","M-0.15,-0.15L0.15,-0.15L0.15,0.15L-0.15,0.15Z","M-0.85,-0.85L0.85,-0.85L0.85,0.85L-0.85,0.85Z","M-0.15,-0.15L0.15,-0.15L0.15,0.15L-0.15,0.15Z","M-1,0L1,0M0,-1L0,1M-0.7,-0.7L0.7,0.7M-0.7,0.7L0.7,-0.7","M-1.2,0L1.2,0M0,-1.2L0,1.2","M-1,0L1,0M0,-1L0,1M-0.7,-0.7L0.7,0.7M-0.7,0.7L0.7,-0.7","M-0.15,-0.15L0.15,-0.15L0.15,0.15L-0.15,0.15Z","M-0.8,-1L1,0L-0.8,1Z"]},"legend":{"title":null,"orient":"none","legendX":589,"legendY":189,"strokeColor":"#000","padding":10,"symbolOffset":11,"rowPadding":29.75,"labelFontSize":7,"labelOffset":18,"symbolSize":30,"symbolStrokeWidth":1}}
    }}
  ]}
 ]},
 {"spacing":9,"hconcat":[
  {"width":196,"height":265,
   "title":{"text":"C","anchor":"start","frame":"bounds","fontSize":15,"fontWeight":"bold","offset":-12},
   "data":{"name":"C"},"mark":{"type":"point","filled":false,"size":49,"strokeWidth":1,"opacity":1},
   "encoding":{
    "x":{"field":"x","type":"quantitative","scale":{"domain":[0,20],"nice":false,"zero":false},"axis":{"values":[0,5,10,15,20],"title":["ν\u00a0\u00a0\u00a0(mV s)","ms\u00a0\u00a0\u00a0\u00a0\u00a0\u00a0\u00a0\u00a0\u00a0\u00a0"]}},
    "y":{"field":"y","type":"quantitative","scale":{"domain":[0,150],"nice":false},"axis":{"values":[0,75,150],"title":"MDFs"}},
    "color":{"field":"s","type":"nominal","scale":{"domain":["e","m","f","p₁","p₂","ζ","s","r","c"],"range":["#ff0000","#0000ff","#000000","#000000","#000000","#1ed8e8","#22dd22","#e8e82a","#e8e82a"]},"legend":{"title":null,"orient":"none","legendX":589,"legendY":189,"strokeColor":"#000","padding":10,"symbolOffset":11,"rowPadding":29.75,"labelFontSize":7,"labelOffset":18,"symbolSize":30,"symbolStrokeWidth":1}},
    "shape":{"field":"s","type":"nominal","scale":{"domain":["e","m","f","p₁","p₂","ζ","s","r","c"],"range":["M-0.15,-0.15L0.15,-0.15L0.15,0.15L-0.15,0.15Z","M-0.15,-0.15L0.15,-0.15L0.15,0.15L-0.15,0.15Z","M-0.85,-0.85L0.85,-0.85L0.85,0.85L-0.85,0.85Z","M-0.15,-0.15L0.15,-0.15L0.15,0.15L-0.15,0.15Z","M-1,0L1,0M0,-1L0,1M-0.7,-0.7L0.7,0.7M-0.7,0.7L0.7,-0.7","M-1.2,0L1.2,0M0,-1.2L0,1.2","M-1,0L1,0M0,-1L0,1M-0.7,-0.7L0.7,0.7M-0.7,0.7L0.7,-0.7","M-0.15,-0.15L0.15,-0.15L0.15,0.15L-0.15,0.15Z","M-0.8,-1L1,0L-0.8,1Z"]},"legend":{"title":null,"orient":"none","legendX":589,"legendY":189,"strokeColor":"#000","padding":10,"symbolOffset":11,"rowPadding":29.75,"labelFontSize":7,"labelOffset":18,"symbolSize":30,"symbolStrokeWidth":1}}
   }},
  {"spacing":0,"vconcat":[
   {"width":1,"height":34,"data":{"values":[]},"mark":"point","view":{"stroke":null}},
   {"width":92,"height":113,"title":{"text":"MDFs of EPN","offset":4},
    "data":{"name":"Ci"},"mark":{"type":"point","filled":false,"size":49,"strokeWidth":1,"opacity":1},
    "encoding":{
     "x":{"field":"x","type":"quantitative","scale":{"domain":[0,0.02],"nice":false,"zero":false},"axis":{"values":[0,0.005,0.01,0.015,0.02],"format":"~g","title":null}},
     "y":{"field":"y","type":"quantitative","scale":{"domain":[0,50],"nice":false},"axis":{"values":[0,10,20,30,40,50],"title":null}},
     "color":{"field":"s","type":"nominal","scale":{"domain":["e","m","f","p₁","p₂","ζ","s","r","c"],"range":["#ff0000","#0000ff","#000000","#000000","#000000","#1ed8e8","#22dd22","#e8e82a","#e8e82a"]},"legend":{"title":null,"orient":"none","legendX":589,"legendY":189,"strokeColor":"#000","padding":10,"symbolOffset":11,"rowPadding":29.75,"labelFontSize":7,"labelOffset":18,"symbolSize":30,"symbolStrokeWidth":1}},
     "shape":{"field":"s","type":"nominal","scale":{"domain":["e","m","f","p₁","p₂","ζ","s","r","c"],"range":["M-0.15,-0.15L0.15,-0.15L0.15,0.15L-0.15,0.15Z","M-0.15,-0.15L0.15,-0.15L0.15,0.15L-0.15,0.15Z","M-0.85,-0.85L0.85,-0.85L0.85,0.85L-0.85,0.85Z","M-0.15,-0.15L0.15,-0.15L0.15,0.15L-0.15,0.15Z","M-1,0L1,0M0,-1L0,1M-0.7,-0.7L0.7,0.7M-0.7,0.7L0.7,-0.7","M-1.2,0L1.2,0M0,-1.2L0,1.2","M-1,0L1,0M0,-1L0,1M-0.7,-0.7L0.7,0.7M-0.7,0.7L0.7,-0.7","M-0.15,-0.15L0.15,-0.15L0.15,0.15L-0.15,0.15Z","M-0.8,-1L1,0L-0.8,1Z"]},"legend":{"title":null,"orient":"none","legendX":589,"legendY":189,"strokeColor":"#000","padding":10,"symbolOffset":11,"rowPadding":29.75,"labelFontSize":7,"labelOffset":18,"symbolSize":30,"symbolStrokeWidth":1}}
    }}
  ]}
 ]}
]},
{"spacing":1,"align":"none","vconcat":[
 {"spacing":6,"hconcat":[
  {"width":169,"height":214,
   "title":{"text":"B","anchor":"start","frame":"bounds","fontSize":15,"fontWeight":"bold","offset":-12},
   "data":{"name":"B"},"mark":{"type":"point","filled":false,"size":49,"strokeWidth":1,"opacity":1},
   "encoding":{
    "x":{"field":"x","type":"quantitative","scale":{"domain":[0,10],"nice":false,"zero":false},"axis":{"values":[0,2,4,6,8,10],"title":["ν\u00a0\u00a0\u00a0(mV s)","ms\u00a0\u00a0\u00a0\u00a0\u00a0\u00a0\u00a0\u00a0\u00a0\u00a0"]}},
    "y":{"field":"y","type":"quantitative","scale":{"domain":[0,150],"nice":false},"axis":{"values":[0,75,150],"title":"MDFs","titlePadding":12}},
    "color":{"field":"s","type":"nominal","scale":{"domain":["e","m","f","p₁","p₂","ζ","s","r","c"],"range":["#ff0000","#0000ff","#000000","#000000","#000000","#1ed8e8","#22dd22","#e8e82a","#e8e82a"]},"legend":{"title":null,"orient":"none","legendX":589,"legendY":189,"strokeColor":"#000","padding":10,"symbolOffset":11,"rowPadding":29.75,"labelFontSize":7,"labelOffset":18,"symbolSize":30,"symbolStrokeWidth":1}},
    "shape":{"field":"s","type":"nominal","scale":{"domain":["e","m","f","p₁","p₂","ζ","s","r","c"],"range":["M-0.15,-0.15L0.15,-0.15L0.15,0.15L-0.15,0.15Z","M-0.15,-0.15L0.15,-0.15L0.15,0.15L-0.15,0.15Z","M-0.85,-0.85L0.85,-0.85L0.85,0.85L-0.85,0.85Z","M-0.15,-0.15L0.15,-0.15L0.15,0.15L-0.15,0.15Z","M-1,0L1,0M0,-1L0,1M-0.7,-0.7L0.7,0.7M-0.7,0.7L0.7,-0.7","M-1.2,0L1.2,0M0,-1.2L0,1.2","M-1,0L1,0M0,-1L0,1M-0.7,-0.7L0.7,0.7M-0.7,0.7L0.7,-0.7","M-0.15,-0.15L0.15,-0.15L0.15,0.15L-0.15,0.15Z","M-0.8,-1L1,0L-0.8,1Z"]},"legend":{"title":null,"orient":"none","legendX":589,"legendY":189,"strokeColor":"#000","padding":10,"symbolOffset":11,"rowPadding":29.75,"labelFontSize":7,"labelOffset":18,"symbolSize":30,"symbolStrokeWidth":1}}
   }},
  {"spacing":0,"vconcat":[
   {"width":1,"height":4,"data":{"values":[]},"mark":"point","view":{"stroke":null}},
   {"width":91,"height":132,"title":{"text":"MDFs of EPN","offset":4},
    "data":{"name":"Bi"},"mark":{"type":"point","filled":false,"size":49,"strokeWidth":1,"opacity":1},
    "encoding":{
     "x":{"field":"x","type":"quantitative","scale":{"domain":[0,0.01],"nice":false,"zero":false},"axis":{"values":[0,0.005,0.01],"format":"~g","title":null}},
     "y":{"field":"y","type":"quantitative","scale":{"domain":[0,160],"nice":false},"axis":{"values":[0,50,100,150],"title":null}},
     "color":{"field":"s","type":"nominal","scale":{"domain":["e","m","f","p₁","p₂","ζ","s","r","c"],"range":["#ff0000","#0000ff","#000000","#000000","#000000","#1ed8e8","#22dd22","#e8e82a","#e8e82a"]},"legend":{"title":null,"orient":"none","legendX":589,"legendY":189,"strokeColor":"#000","padding":10,"symbolOffset":11,"rowPadding":29.75,"labelFontSize":7,"labelOffset":18,"symbolSize":30,"symbolStrokeWidth":1}},
     "shape":{"field":"s","type":"nominal","scale":{"domain":["e","m","f","p₁","p₂","ζ","s","r","c"],"range":["M-0.15,-0.15L0.15,-0.15L0.15,0.15L-0.15,0.15Z","M-0.15,-0.15L0.15,-0.15L0.15,0.15L-0.15,0.15Z","M-0.85,-0.85L0.85,-0.85L0.85,0.85L-0.85,0.85Z","M-0.15,-0.15L0.15,-0.15L0.15,0.15L-0.15,0.15Z","M-1,0L1,0M0,-1L0,1M-0.7,-0.7L0.7,0.7M-0.7,0.7L0.7,-0.7","M-1.2,0L1.2,0M0,-1.2L0,1.2","M-1,0L1,0M0,-1L0,1M-0.7,-0.7L0.7,0.7M-0.7,0.7L0.7,-0.7","M-0.15,-0.15L0.15,-0.15L0.15,0.15L-0.15,0.15Z","M-0.8,-1L1,0L-0.8,1Z"]},"legend":{"title":null,"orient":"none","legendX":589,"legendY":189,"strokeColor":"#000","padding":10,"symbolOffset":11,"rowPadding":29.75,"labelFontSize":7,"labelOffset":18,"symbolSize":30,"symbolStrokeWidth":1}}
    }}
  ]}
 ]},
 {"spacing":-6,"hconcat":[
  {"width":149,"height":268,
   "title":{"text":"D","anchor":"start","frame":"bounds","fontSize":15,"fontWeight":"bold","offset":-12},
   "data":{"name":"D"},"mark":{"type":"point","filled":false,"size":49,"strokeWidth":1,"opacity":1},
   "encoding":{
    "x":{"field":"x","type":"quantitative","scale":{"domain":[0,20],"nice":false,"zero":false},"axis":{"values":[0,5,10,15,20],"title":"V (mV s)"}},
    "y":{"field":"y","type":"quantitative","scale":{"domain":[0,300],"nice":false},"axis":{"values":[0,150,300],"title":"MDFs"}},
    "color":{"field":"s","type":"nominal","scale":{"domain":["e","m","f","p₁","p₂","ζ","s","r","c"],"range":["#ff0000","#0000ff","#000000","#000000","#000000","#1ed8e8","#22dd22","#e8e82a","#e8e82a"]},"legend":{"title":null,"orient":"none","legendX":589,"legendY":189,"strokeColor":"#000","padding":10,"symbolOffset":11,"rowPadding":29.75,"labelFontSize":7,"labelOffset":18,"symbolSize":30,"symbolStrokeWidth":1}},
    "shape":{"field":"s","type":"nominal","scale":{"domain":["e","m","f","p₁","p₂","ζ","s","r","c"],"range":["M-0.15,-0.15L0.15,-0.15L0.15,0.15L-0.15,0.15Z","M-0.15,-0.15L0.15,-0.15L0.15,0.15L-0.15,0.15Z","M-0.85,-0.85L0.85,-0.85L0.85,0.85L-0.85,0.85Z","M-0.15,-0.15L0.15,-0.15L0.15,0.15L-0.15,0.15Z","M-1,0L1,0M0,-1L0,1M-0.7,-0.7L0.7,0.7M-0.7,0.7L0.7,-0.7","M-1.2,0L1.2,0M0,-1.2L0,1.2","M-1,0L1,0M0,-1L0,1M-0.7,-0.7L0.7,0.7M-0.7,0.7L0.7,-0.7","M-0.15,-0.15L0.15,-0.15L0.15,0.15L-0.15,0.15Z","M-0.8,-1L1,0L-0.8,1Z"]},"legend":{"title":null,"orient":"none","legendX":589,"legendY":189,"strokeColor":"#000","padding":10,"symbolOffset":11,"rowPadding":29.75,"labelFontSize":7,"labelOffset":18,"symbolSize":30,"symbolStrokeWidth":1}}
   }},
  {"spacing":0,"vconcat":[
   {"width":1,"height":35,"data":{"values":[]},"mark":"point","view":{"stroke":null}},
   {"width":76,"height":88,"title":{"text":"MDFs of EPN","offset":4},
    "data":{"name":"Di"},"mark":{"type":"point","filled":false,"size":49,"strokeWidth":1,"opacity":1},
    "encoding":{
     "x":{"field":"x","type":"quantitative","scale":{"domain":[0,0.02],"nice":false,"zero":false},"axis":{"values":[0,0.01,0.02],"format":"~g","title":null}},
     "y":{"field":"y","type":"quantitative","scale":{"domain":[0,60],"nice":false},"axis":{"values":[0,20,40,60],"title":null}},
     "color":{"field":"s","type":"nominal","scale":{"domain":["e","m","f","p₁","p₂","ζ","s","r","c"],"range":["#ff0000","#0000ff","#000000","#000000","#000000","#1ed8e8","#22dd22","#e8e82a","#e8e82a"]},"legend":{"title":null,"orient":"none","legendX":589,"legendY":189,"strokeColor":"#000","padding":10,"symbolOffset":11,"rowPadding":29.75,"labelFontSize":7,"labelOffset":18,"symbolSize":30,"symbolStrokeWidth":1}},
     "shape":{"field":"s","type":"nominal","scale":{"domain":["e","m","f","p₁","p₂","ζ","s","r","c"],"range":["M-0.15,-0.15L0.15,-0.15L0.15,0.15L-0.15,0.15Z","M-0.15,-0.15L0.15,-0.15L0.15,0.15L-0.15,0.15Z","M-0.85,-0.85L0.85,-0.85L0.85,0.85L-0.85,0.85Z","M-0.15,-0.15L0.15,-0.15L0.15,0.15L-0.15,0.15Z","M-1,0L1,0M0,-1L0,1M-0.7,-0.7L0.7,0.7M-0.7,0.7L0.7,-0.7","M-1.2,0L1.2,0M0,-1.2L0,1.2","M-1,0L1,0M0,-1L0,1M-0.7,-0.7L0.7,0.7M-0.7,0.7L0.7,-0.7","M-0.15,-0.15L0.15,-0.15L0.15,0.15L-0.15,0.15Z","M-0.8,-1L1,0L-0.8,1Z"]},"legend":{"title":null,"orient":"none","legendX":589,"legendY":189,"strokeColor":"#000","padding":10,"symbolOffset":11,"rowPadding":29.75,"labelFontSize":7,"labelOffset":18,"symbolSize":30,"symbolStrokeWidth":1}}
    }}
  ]}
 ]}
]}
],
"config":{
 "font":"Liberation Sans",
 "view":{"stroke":"#333","strokeWidth":1},
 "axis":{"grid":false,"domain":false,"labelFontSize":8,"titleFontSize":8,"titleFontWeight":"normal","labelColor":"#000","titleColor":"#000","tickColor":"#333","tickSize":-4,"labelFlush":false,"labelOverlap":false,"titlePadding":3,"labelFont":"Liberation Sans","titleFont":"Liberation Sans"},
 "axisX":{"labelPadding":10,"titleLineHeight":8},
 "axisY":{"labelPadding":5},
 "title":{"fontSize":9,"fontWeight":"normal","font":"Liberation Sans","color":"#000"},
 "legend":{"labelFont":"Liberation Sans","labelColor":"#000"}
}
}
